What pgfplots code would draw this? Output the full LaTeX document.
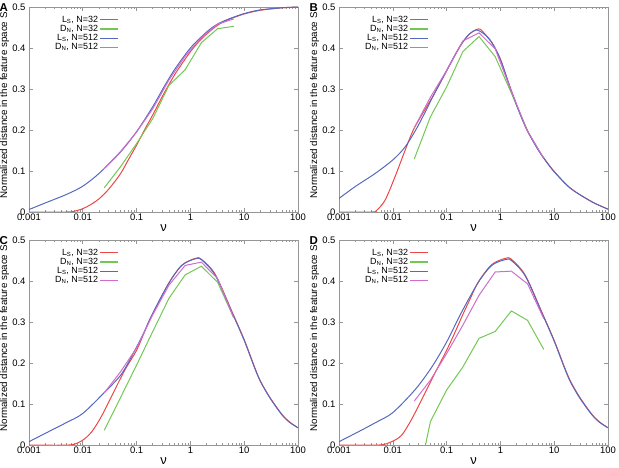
\documentclass[border=0pt]{standalone}
\usepackage{fontspec}
\setmainfont{Liberation Sans}
\usepackage{pgfplots}
\pgfplotsset{compat=1.18}
\definecolor{cred}{RGB}{236,70,70}
\definecolor{cgreen}{RGB}{115,200,85}
\definecolor{cblue}{RGB}{85,105,190}
\definecolor{cmag}{RGB}{205,110,205}
\definecolor{cframe}{RGB}{150,150,150}
\pgfplotsset{
  legend image code/.code={\draw[#1, line width=1.3bp] (0bp,0bp) -- (18bp,0bp);},
  every axis/.append style={
  scale only axis, width=269bp, height=205bp,
  xmin=0.001, xmax=100, ymin=0, ymax=0.5,
  clip mode=individual,
  xtick={0.001,0.01,0.1,1,10,100},
  xticklabels={0.001,0.01,0.1,1,10,100},
  minor xtick={0.002,0.003,0.004,0.005,0.006,0.007,0.008,0.009,
    0.02,0.03,0.04,0.05,0.06,0.07,0.08,0.09,
    0.2,0.3,0.4,0.5,0.6,0.7,0.8,0.9,
    2,3,4,5,6,7,8,9,20,30,40,50,60,70,80,90},
  ytick={0,0.1,0.2,0.3,0.4,0.5},
  yticklabels={0,0.1,0.2,0.3,0.4,0.5},
  tick align=inside, major tick length=4bp, minor tick length=2bp,
  axis line style={cframe, line width=0.9bp},
  every tick/.style={cframe, line width=0.6bp},
  tick label style={font=\fontsize{9.5}{11}\selectfont},
  xticklabel style={yshift=2bp},
  xlabel={ν},
  xlabel style={font=\fontsize{13}{14}\selectfont, at={(axis description cs:0.5,-0.08)}, anchor=center},
  ylabel={Normalized distance in the feature space S},
  ylabel style={font=\fontsize{9.8}{11}\selectfont, at={(axis description cs:-0.091,0.52)}, anchor=center},
  legend style={draw=none, fill=none, at={(axis description cs:0.08,0.975)}, anchor=north west,
    font=\fontsize{9}{10}\selectfont, row sep=-1.5bp,
    nodes={inner sep=1.5bp}},
  legend cell align=right,
  legend plot pos=right,
  },
  every axis plot/.append style={line width=1bp},
}
\newcommand{\legs}{\addlegendentry{L\textsubscript{S}, N=32}\addlegendentry{D\textsubscript{N}, N=32}\addlegendentry{L\textsubscript{S}, N=512}\addlegendentry{D\textsubscript{N}, N=512}}
\newcommand{\panellabel}[1]{\node[anchor=base west, inner sep=0pt, font=\bfseries\fontsize{11.5}{13}\selectfont] at ([xshift=-29.5bp,yshift=-4.5bp]rel axis cs:0,1) {#1};}
\begin{document}
\begin{tikzpicture}
\useasboundingbox (0,0) rectangle (619bp,468bp);
% ---------------- A
\begin{semilogxaxis}[at={(29bp,256bp)}, anchor=south west]
\addplot[cred, smooth] coordinates {(0.001,0)(0.005,0)(0.007,0.002)(0.01,0.008)(0.014,0.018)(0.02,0.032)(0.03,0.055)(0.05,0.093)(0.07,0.127)(0.1,0.163)(0.14,0.2)(0.2,0.237)(0.316,0.287)(0.5,0.333)(0.7,0.362)(1,0.391)(1.4,0.414)(2,0.434)(3.16,0.455)(5,0.469)(10,0.483)(20,0.492)(50,0.498)(100,0.5)};
\addplot[cgreen] coordinates {(0.025,0.059)(0.05,0.11)(0.1,0.167)(0.2,0.228)(0.4,0.309)(0.8,0.347)(1.6,0.413)(3.2,0.447)(6.4,0.453)};
\addplot[cblue, smooth] coordinates {(0.001,0.006)(0.002,0.022)(0.005,0.043)(0.01,0.063)(0.02,0.094)(0.05,0.146)(0.1,0.196)(0.2,0.257)(0.316,0.303)(0.5,0.346)(1,0.4)(2,0.439)(3.16,0.458)(5,0.47)(10,0.484)(20,0.493)(50,0.498)(100,0.5)};
\addplot[cmag] coordinates {(0.025,0.106)(0.05,0.147)(0.1,0.195)(0.2,0.252)(0.4,0.322)(0.8,0.38)(1.6,0.426)(3.2,0.458)(6.4,0.471)};
\legs
\panellabel{A}
\end{semilogxaxis}
% ---------------- B
\begin{semilogxaxis}[at={(339bp,256bp)}, anchor=south west]
\addplot[cred, smooth] coordinates {(0.001,0)(0.004,0)(0.005,0.004)(0.0072,0.029)(0.011,0.086)(0.017,0.151)(0.024,0.2)(0.034,0.235)(0.06,0.29)(0.1,0.344)(0.15,0.387)(0.2,0.414)(0.27,0.435)(0.36,0.445)(0.42,0.446)(0.5,0.436)(0.7,0.413)(1,0.373)(1.5,0.306)(2.3,0.241)(3.2,0.198)(5,0.153)(7,0.125)(10,0.099)(20,0.058)(50,0.025)(100,0.007)};
\addplot[cgreen] coordinates {(0.025,0.129)(0.05,0.232)(0.1,0.305)(0.2,0.391)(0.4,0.428)(0.8,0.379)(1.6,0.29)(3.2,0.197)(6.4,0.13)};
\addplot[cblue, smooth] coordinates {(0.001,0.033)(0.002,0.062)(0.0047,0.094)(0.01,0.127)(0.017,0.159)(0.03,0.212)(0.06,0.29)(0.1,0.345)(0.15,0.388)(0.2,0.415)(0.27,0.435)(0.36,0.444)(0.5,0.434)(0.7,0.412)(1,0.372)(1.5,0.305)(2.3,0.24)(3.2,0.197)(5,0.152)(7,0.124)(10,0.098)(20,0.058)(50,0.025)(100,0.007)};
\addplot[cmag] coordinates {(0.025,0.205)(0.05,0.28)(0.1,0.345)(0.2,0.417)(0.4,0.437)(0.8,0.398)(1.6,0.294)(3.2,0.197)(6.4,0.131)};
\legs
\panellabel{B}
\end{semilogxaxis}
% ---------------- C
\begin{semilogxaxis}[at={(29bp,23bp)}, anchor=south west]
\addplot[cred, smooth] coordinates {(0.001,0)(0.0055,0)(0.0095,0.01)(0.0146,0.032)(0.022,0.069)(0.034,0.118)(0.06,0.182)(0.1,0.231)(0.14,0.276)(0.19,0.314)(0.39,0.393)(0.69,0.438)(1.22,0.455)(1.6,0.453)(2.9,0.416)(5.9,0.326)(10,0.257)(15.4,0.192)(20,0.156)(30,0.116)(50,0.075)(70,0.056)(100,0.042)};
\addplot[cgreen] coordinates {(0.025,0.036)(0.05,0.115)(0.1,0.195)(0.2,0.277)(0.4,0.358)(0.8,0.415)(1.6,0.436)(3.2,0.397)(6.4,0.31)};
\addplot[cblue, smooth] coordinates {(0.001,0.008)(0.0026,0.036)(0.005,0.055)(0.01,0.077)(0.026,0.13)(0.053,0.174)(0.1,0.239)(0.14,0.277)(0.19,0.316)(0.39,0.393)(0.69,0.438)(1.22,0.454)(1.6,0.452)(2.9,0.414)(5.9,0.324)(10,0.255)(15.4,0.19)(20,0.155)(30,0.115)(50,0.074)(70,0.055)(100,0.042)};
\addplot[cmag] coordinates {(0.025,0.127)(0.05,0.178)(0.1,0.237)(0.2,0.318)(0.4,0.39)(0.8,0.438)(1.6,0.446)(3.2,0.406)(6.4,0.31)};
\legs
\panellabel{C}
\end{semilogxaxis}
% ---------------- D
\begin{semilogxaxis}[at={(339bp,23bp)}, anchor=south west]
\addplot[cred, smooth] coordinates {(0.001,0)(0.0055,0)(0.0095,0.008)(0.0146,0.024)(0.022,0.061)(0.034,0.109)(0.06,0.174)(0.1,0.231)(0.14,0.272)(0.2,0.318)(0.26,0.35)(0.39,0.398)(0.69,0.44)(1.22,0.455)(1.6,0.453)(2.9,0.414)(5.9,0.324)(10,0.255)(15.4,0.191)(20,0.156)(30,0.116)(50,0.075)(70,0.056)(100,0.042)};
\addplot[cgreen] coordinates {(0.025,-0.13)(0.05,0.057)(0.1,0.134)(0.2,0.19)(0.4,0.26)(0.8,0.277)(1.6,0.327)(3.2,0.304)(6.4,0.233)};
\addplot[cblue, smooth] coordinates {(0.001,0.008)(0.0026,0.036)(0.005,0.056)(0.01,0.079)(0.026,0.135)(0.053,0.19)(0.1,0.251)(0.19,0.324)(0.39,0.397)(0.69,0.438)(1.22,0.452)(1.6,0.45)(2.9,0.412)(5.9,0.322)(10,0.253)(15.4,0.189)(20,0.154)(30,0.114)(50,0.074)(70,0.055)(100,0.042)};
\addplot[cmag] coordinates {(0.025,0.107)(0.05,0.158)(0.1,0.223)(0.2,0.292)(0.4,0.365)(0.8,0.422)(1.6,0.424)(3.2,0.393)(6.4,0.308)};
\legs
\panellabel{D}
\end{semilogxaxis}
\end{tikzpicture}
\end{document}
